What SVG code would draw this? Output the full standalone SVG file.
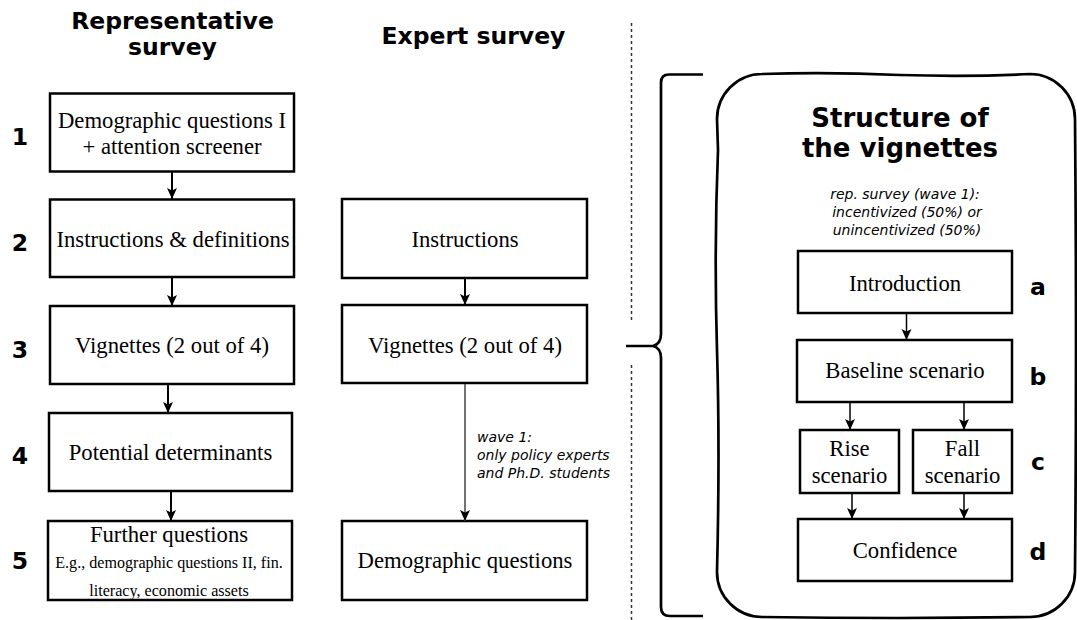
<svg xmlns="http://www.w3.org/2000/svg" width="1077" height="620" viewBox="0 0 1077 620">
<style>
.box{fill:#fff;stroke:#000;stroke-width:2.5}
.t{font-family:"Liberation Serif","Times New Roman",serif;font-size:22.7px;text-anchor:middle;fill:#000}
.s{font-family:"Liberation Serif","Times New Roman",serif;font-size:16.1px;text-anchor:middle;fill:#000}
.h{font-family:"DejaVu Sans",Verdana,sans-serif;font-weight:bold;font-size:23.5px;text-anchor:middle;fill:#000}
.ht{font-family:"DejaVu Sans",Verdana,sans-serif;font-weight:bold;font-size:26px;text-anchor:middle;fill:#000}
.i{font-family:"DejaVu Sans",Verdana,sans-serif;font-style:italic;font-size:14px;fill:#000}
.c{stroke:#000;stroke-width:2;fill:none}
.cg{stroke:#444;stroke-width:1.5;fill:none}
.cs{stroke:#000;stroke-width:1.5;fill:none}
.dot{stroke:#333;stroke-width:1.5;stroke-dasharray:3 3;fill:none}
.br{stroke:#000;stroke-width:2.7;fill:none}
</style>
<defs>
<marker id="ah" markerUnits="userSpaceOnUse" markerWidth="12" markerHeight="12" viewBox="0 0 12 12" refX="11" refY="6" orient="auto">
<path d="M0,1 L11,6 L0,11 L2.5,6 Z" fill="#000"/>
</marker>
</defs>

<!-- headings -->
<g id="headings">
<text class="h" x="172.5" y="29">Representative</text>
<text class="h" x="172.5" y="55">survey</text>
<text class="h" x="473.5" y="44">Expert survey</text>
<text class="h" x="20" y="145">1</text>
<text class="h" x="20" y="251">2</text>
<text class="h" x="20" y="358">3</text>
<text class="h" x="20" y="464">4</text>
<text class="h" x="20" y="569">5</text>
</g>

<!-- separators and brace -->
<g id="separator">
<line class="dot" x1="631.5" y1="23" x2="631.5" y2="323"/>
<line class="dot" x1="631.5" y1="365" x2="631.5" y2="620"/>
</g>
<g id="brace">
<path class="br" d="M703,74.5 L669,74.5 Q661,74.5 661,82.5 L661,334 Q661,344 653,346 L626,346 M653,346 Q661,348 661,358 L661,607 Q661,616 670,616 L703,616"/>
</g>

<!-- structure of vignettes panel -->
<g id="panel">
<path d="M762,74 Q830,72 900,75 Q970,77 1030,74 A45,45 0 0 1 1075,119 Q1077,350 1075,572 A45,45 0 0 1 1030,617 Q900,619 762,617 A45,45 0 0 1 717,572 Q720,450 717,350 Q714,250 718,150 L717,119 A45,45 0 0 1 762,74 Z" fill="#fff" stroke="#000" stroke-width="2.7"/>
<text class="ht" x="900" y="127">Structure of</text>
<text class="ht" x="900" y="157">the vignettes</text>
<text class="i" x="905" y="199" text-anchor="middle">rep. survey (wave 1):</text>
<text class="i" x="907" y="217" text-anchor="middle">incentivized (50%) or</text>
<text class="i" x="907" y="235" text-anchor="middle">unincentivized (50%)</text>
</g>

<!-- representative survey -->
<g id="r1"><rect class="box" x="50" y="93.5" width="244" height="78"/>
<text class="t" x="172" y="128">Demographic questions I</text>
<text class="t" x="172" y="154">+ attention screener</text></g>
<g id="r2"><rect class="box" x="50" y="199.5" width="244" height="77.5"/>
<text class="t" x="173" y="247">Instructions &amp; definitions</text></g>
<g id="r3"><rect class="box" x="50" y="306" width="244" height="78"/>
<text class="t" x="172" y="352.5">Vignettes (2 out of 4)</text></g>
<g id="r4"><rect class="box" x="49" y="413" width="243" height="78"/>
<text class="t" x="170.5" y="460">Potential determinants</text></g>
<g id="r5"><rect class="box" x="48" y="521" width="244" height="79"/>
<text class="t" x="169" y="541.5">Further questions</text>
<text class="s" x="169" y="568">E.g., demographic questions II, fin.</text>
<text class="s" x="169" y="596">literacy, economic assets</text></g>

<!-- expert survey -->
<g id="e2"><rect class="box" x="342" y="199" width="245" height="79"/>
<text class="t" x="465" y="247">Instructions</text></g>
<g id="e3"><rect class="box" x="342" y="305" width="245" height="78"/>
<text class="t" x="465" y="353">Vignettes (2 out of 4)</text></g>
<g id="e5"><rect class="box" x="342" y="521" width="245" height="79"/>
<text class="t" x="465" y="568">Demographic questions</text></g>
<g id="wave-note">
<text class="i" x="477" y="442">wave 1:</text>
<text class="i" x="477" y="460">only policy experts</text>
<text class="i" x="477" y="478">and Ph.D. students</text>
</g>

<!-- vignette structure nodes -->
<g id="va"><rect class="box" x="798" y="251" width="214" height="62"/>
<text class="t" x="905" y="291">Introduction</text>
<text class="h" x="1038" y="295">a</text></g>
<g id="vb"><rect class="box" x="797" y="340" width="215" height="62"/>
<text class="t" x="905" y="378">Baseline scenario</text>
<text class="h" x="1038" y="385">b</text></g>
<g id="vc1"><rect class="box" x="800" y="430" width="99" height="63"/>
<text class="t" x="849.5" y="456">Rise</text>
<text class="t" x="849.5" y="482.5">scenario</text></g>
<g id="vc2"><rect class="box" x="913" y="430" width="99" height="63"/>
<text class="t" x="962.5" y="456">Fall</text>
<text class="t" x="962.5" y="482.5">scenario</text>
<text class="h" x="1038" y="470">c</text></g>
<g id="vd"><rect class="box" x="798" y="519" width="214" height="62"/>
<text class="t" x="905" y="558">Confidence</text>
<text class="h" x="1038" y="560">d</text></g>

<!-- connectors -->
<g id="connectors">
<line class="c" x1="172" y1="172" x2="172" y2="199" marker-end="url(#ah)"/>
<line class="c" x1="172" y1="278" x2="172" y2="306" marker-end="url(#ah)"/>
<line class="c" x1="168" y1="385" x2="168" y2="413" marker-end="url(#ah)"/>
<line class="c" x1="171" y1="492" x2="171" y2="521" marker-end="url(#ah)"/>
<line class="c" x1="465" y1="279" x2="465" y2="305" marker-end="url(#ah)"/>
<line class="cg" x1="465" y1="384" x2="465" y2="521" marker-end="url(#ah)"/>
<line class="cs" x1="906.5" y1="314" x2="906.5" y2="340" marker-end="url(#ah)"/>
<line class="cs" x1="850" y1="403" x2="850" y2="430" marker-end="url(#ah)"/>
<line class="cs" x1="964" y1="403" x2="964" y2="430" marker-end="url(#ah)"/>
<line class="cs" x1="852" y1="494" x2="852" y2="519" marker-end="url(#ah)"/>
<line class="cs" x1="964" y1="494" x2="964" y2="519" marker-end="url(#ah)"/>
</g>
</svg>
